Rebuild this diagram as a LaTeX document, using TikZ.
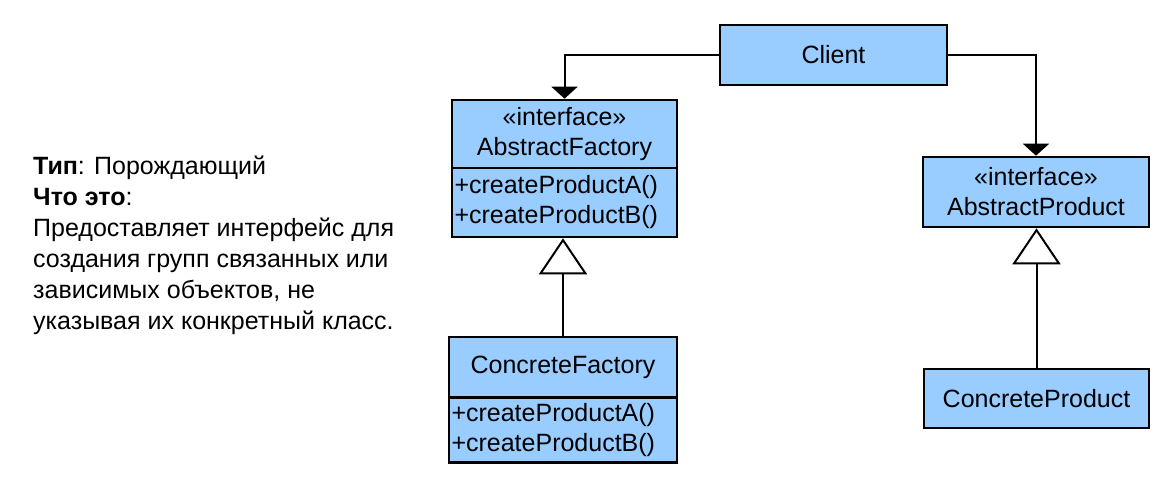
\documentclass[tikz,border=0pt]{standalone}
\usepackage{fontspec}
\setmainfont{Liberation Sans}
\usetikzlibrary{arrows.meta}
\definecolor{boxblue}{RGB}{153,204,255}
\begin{document}
\begin{tikzpicture}[x=1pt,y=-1pt,
  box/.style={draw=black, line width=2.6pt, fill=boxblue, rectangle, inner sep=0pt,
    font=\fontsize{25}{30}\selectfont, align=center},
  meth/.style={box, align=left, text width=#1},
  assoc/.style={line width=2pt, -{Triangle[width=26pt,length=12pt]}},
  gen/.style={line width=2pt, -{Triangle[open,width=48pt,length=36pt,fill=white,line width=2pt]}}
]
\useasboundingbox[fill=white] (0,0) rectangle (1171,494);
% Client
\node[box, minimum width=227pt, minimum height=60pt] (client) at (833.5,55) {Client};
% AbstractFactory
\node[box, minimum width=225pt, minimum height=68pt] (af) at (564.5,134) {«interface»\\AbstractFactory};
\node[meth=220pt, minimum width=225pt, minimum height=69pt] (afm) at (564.5,202.5) {+createProductA()\\+createProductB()};
% ConcreteFactory
\node[box, minimum width=228pt, minimum height=61pt] (cf) at (563,367.5) {ConcreteFactory};
\node[meth=223pt, minimum width=228pt, minimum height=65pt] (cfm) at (563,430) {+createProductA()\\+createProductB()};
% AbstractProduct
\node[box, minimum width=226pt, minimum height=70pt] (ap) at (1036,192) {«interface»\\AbstractProduct};
% ConcreteProduct
\node[box, minimum width=225pt, minimum height=59pt] (cp) at (1036.5,398.5) {ConcreteProduct};
% connectors
\draw[assoc] (client.west) -| (af.north);
\draw[assoc] (client.east) -| (ap.north);
\draw[gen] (cf.north) -- (cf.north |- afm.south);
\draw[gen] (cp.north) -- (cp.north |- ap.south);
% description
\node[anchor=west, align=left, inner sep=0pt, font=\fontsize{25}{31}\selectfont] (desc) at (33,245)
  {\textbf{Тип}: Порождающий\\
   \textbf{Что это}:\\
   Предоставляет интерфейс для\\
   создания групп связанных или\\
   зависимых объектов, не\\
   указывая их конкретный класс.};
\end{tikzpicture}
\end{document}
